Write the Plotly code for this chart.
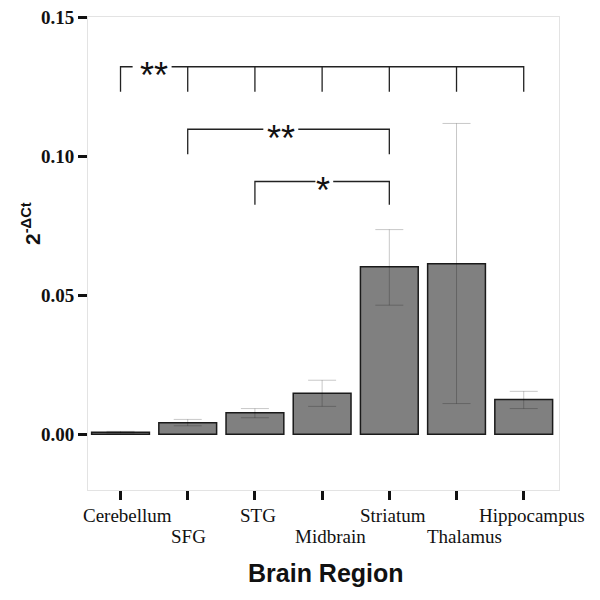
import plotly.graph_objects as go

regions = ["Cerebellum", "SFG", "STG", "Midbrain", "Striatum", "Thalamus", "Hippocampus"]
means = [0.0007, 0.0041, 0.0077, 0.0147, 0.0602, 0.0613, 0.0125]
err_upper = [0.0003, 0.0012, 0.0015, 0.0047, 0.0134, 0.0505, 0.0029]
err_lower = [0.0003, 0.0011, 0.0018, 0.0047, 0.0138, 0.0503, 0.0033]

y_ticks = [0.00, 0.05, 0.10, 0.15]
y_ticklabels = ["0.00", "0.05", "0.10", "0.15"]

# significance brackets
brackets = [
    {"start": 0, "end": 6, "y": 0.1322, "drop": 0.1232, "label": "**", "lx": 0.50, "gap": (0.18, 0.76)},
    {"start": 1, "end": 4, "y": 0.1097, "drop": 0.1007, "label": "**", "lx": 2.39, "gap": (2.125, 2.645)},
    {"start": 2, "end": 4, "y": 0.0909, "drop": 0.0825, "label": "*", "lx": 3.02, "gap": (2.90, 3.165)},
]

# small horizontal nudges of the category labels (style only)
label_nudge = [7, 1, 3, 8, 4, 8, 8]

xs = list(range(len(regions)))
fig = go.Figure()
fig.add_trace(go.Bar(
    x=xs, y=means, width=0.86,
    marker=dict(color="#808080", line=dict(color="#1a1a1a", width=1.5)),
    error_y=dict(type="data", symmetric=False, array=err_upper, arrayminus=err_lower,
                 color="rgba(0,0,0,0.22)", thickness=1, width=14),
    showlegend=False,
))

for b in brackets:
    xs_l = [b["start"], b["start"], b["gap"][0]]
    ys_l = [b["drop"], b["y"], b["y"]]
    fig.add_trace(go.Scatter(x=xs_l, y=ys_l, mode="lines", line=dict(color="#222", width=1.3),
                             showlegend=False, hoverinfo="skip"))
    xs_r = [b["gap"][1], b["end"], b["end"]]
    ys_r = [b["y"], b["y"], b["drop"]]
    fig.add_trace(go.Scatter(x=xs_r, y=ys_r, mode="lines", line=dict(color="#222", width=1.3),
                             showlegend=False, hoverinfo="skip"))
    if b["start"] == 0:
        for i in range(b["start"] + 1, b["end"]):
            fig.add_trace(go.Scatter(x=[i, i], y=[b["y"], b["drop"]], mode="lines",
                                     line=dict(color="#222", width=1.3),
                                     showlegend=False, hoverinfo="skip"))
    fig.add_annotation(x=b["lx"], y=b["y"], text=b["label"], showarrow=False,
                       font=dict(family="Liberation Sans", size=36, color="#111"),
                       yshift=-9)

# staggered category labels
for i, r in enumerate(regions):
    fig.add_annotation(x=i, xref="x", y=0, yref="paper", text=r, showarrow=False,
                       xanchor="center", yanchor="middle",
                       xshift=label_nudge[i],
                       yshift=-25 if i % 2 == 0 else -46,
                       font=dict(family="Liberation Serif", size=19, color="#111"))

# axis titles
fig.add_annotation(x=0.5, xref="paper", y=0, yref="paper", text="<b>Brain Region</b>",
                   showarrow=False, xanchor="center", yanchor="middle", yshift=-83,
                   xshift=2,
                   font=dict(family="Liberation Sans", size=25, color="#111"))
fig.add_annotation(x=0, xref="paper", y=1, yref="paper", text="<b>2<sup>-ΔCt</sup></b>",
                   showarrow=False, textangle=-90, xanchor="center", yanchor="middle",
                   xshift=-57, yshift=-207,
                   font=dict(family="Liberation Sans", size=21, color="#111"))

fig.update_layout(
    width=600, height=600,
    margin=dict(l=80, r=49, t=9, b=118, autoexpand=False),
    plot_bgcolor="white", paper_bgcolor="white",
    font=dict(family="Liberation Serif", color="#111"),
    xaxis=dict(
        range=[-0.484, 6.525], tickvals=xs, showticklabels=False, automargin=False,
        ticks="outside", ticklen=9, tickwidth=3, tickcolor="#111",
        showgrid=False, zeroline=False,
        showline=True, linecolor="#e3e3e3", linewidth=1, mirror=True,
    ),
    yaxis=dict(
        range=[-0.0201, 0.1501], tickvals=y_ticks, ticktext=["<b>%s</b>" % t for t in y_ticklabels],
        automargin=False, ticklabeloverflow="allow",
        ticks="outside", ticklen=9, tickwidth=3, tickcolor="#111",
        tickfont=dict(family="Liberation Serif", size=19, color="#111"),
        showgrid=False, zeroline=False,
        showline=True, linecolor="#e3e3e3", linewidth=1, mirror=True,
    ),
)

fig.write_html("out.html")
